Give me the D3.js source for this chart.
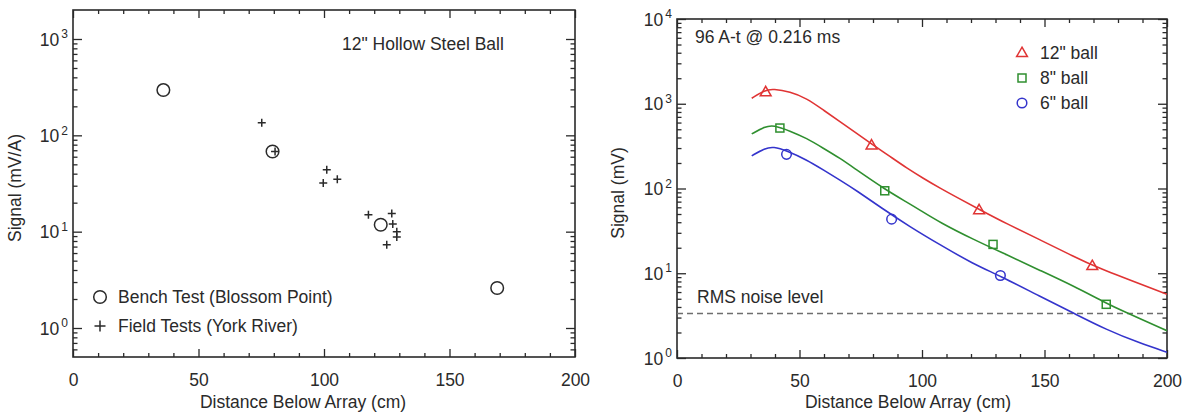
<!DOCTYPE html>
<html>
<head>
<meta charset="utf-8">
<script src="https://cdn.jsdelivr.net/npm/d3@7"></script>
<style>
  html, body { margin: 0; padding: 0; background: #fff; }
  svg { display: block; }
</style>
</head>
<body>
<svg id="chart" width="1184" height="413"></svg>
<script>
// ---- Left panel: 12" hollow steel ball, signal normalised by current ----
const benchDist   = [36, 79.5, 122.6, 169];
const benchSignal = [295, 68, 11.8, 2.6];
const fieldDist   = [75.2, 80.5, 101.1, 99.7, 105.3, 117.7, 127, 127.4, 129, 129, 125];
const fieldSignal = [135, 68, 44, 32, 35, 15, 15.4, 12, 10, 8.8, 7.3];
const leftLegend  = ["Bench Test (Blossom Point)", "Field Tests (York River)"];

// ---- Right panel: measured signal for three ball sizes, with model fits ----
const ballLabels = ['12" ball', '8" ball', '6" ball'];
const ballColors = ["#e03434", "#2f8f2f", "#3434cc"];

const meas12Dist = [36.2, 79.4, 123.3, 169.5];
const meas12Sig  = [1370, 323, 55.6, 12.2];
const meas8Dist  = [42, 84.8, 129, 175.2];
const meas8Sig   = [517, 94, 21.9, 4.3];
const meas6Dist  = [44.7, 87.6, 132];
const meas6Sig   = [253, 43.5, 9.4];

const fit12Dist = [30.5, 35.9, 39.3, 46.1, 52.9, 59.7, 66.5, 73.3, 79.5, 87, 93.8, 100.5, 107.3, 114.8, 123.7, 134.6, 148.2, 161.8, 169.7, 200];
const fit12Sig  = [1161, 1455, 1496, 1389, 1161, 845, 615, 449, 335, 238, 174, 132, 101, 77, 56, 38.3, 24.8, 15.85, 12.2, 5.65];
const fit8Dist  = [30.5, 35.9, 39.3, 46.1, 52.9, 59.7, 66.5, 73.3, 84.9, 93.8, 99.2, 107.3, 120.9, 134.6, 148.2, 161.8, 174.3, 182.2, 200];
const fit8Sig   = [441, 537, 562, 478, 392, 299, 228, 166, 97.7, 69, 55.6, 39.8, 25.1, 16.5, 10.8, 7.08, 4.57, 3.55, 2.1];
const fit6Dist  = [30.5, 35.9, 39.3, 44.8, 52.9, 59.7, 66.5, 73.3, 83.5, 95, 107.3, 120.9, 131.8, 148.2, 161.8, 175.2, 188.8, 200];
const fit6Sig   = [243, 299, 312, 280, 218, 166, 126, 94.6, 58.7, 35.5, 21.7, 12.9, 9.34, 5.32, 3.39, 2.16, 1.5, 1.17];

const noiseLevel = 3.35;

const xTicks = [0, 50, 100, 150, 200];
const xMinor = [10, 20, 30, 40, 60, 70, 80, 90, 110, 120, 130, 140, 160, 170, 180, 190];

const FONT = '"Liberation Sans", Arial, Helvetica, sans-serif';
const INK = "#2a2a2a";
const FS = 17.5;

const svg = d3.select("#chart");

function minorLog(lo, hi) {
  const out = [];
  for (let e = Math.floor(Math.log10(lo)); e <= Math.ceil(Math.log10(hi)); e++) {
    for (let m = 2; m <= 9; m++) {
      const v = +(m * Math.pow(10, e)).toPrecision(6);
      if (v > lo && v < hi) out.push(v);
    }
  }
  return out;
}

function styleAxis(g) {
  g.select(".domain").remove();
  g.selectAll(".tick line").attr("stroke", INK).attr("stroke-width", 1.3);
  g.selectAll("text").attr("font-family", FONT).attr("font-size", FS).attr("fill", INK);
}

// Draws the frame, inward ticks on all four sides, and tick labels.
function drawFrame(x, y, decades, xTitle, yTitle, xTitleX, yTitleX, yTitleY) {
  const [x0, x1] = x.range();
  const [y0, y1] = y.range(); // y0 bottom, y1 top
  const g = svg.append("g");
  const dom = y.domain();
  const minorY = minorLog(dom[0], dom[1]);

  // bottom
  g.append("g").attr("transform", `translate(0,${y0})`)
    .call(d3.axisBottom(x).tickValues(xTicks).tickSize(-8).tickPadding(17).tickFormat(d3.format("d")))
    .call(styleAxis);
  g.append("g").attr("transform", `translate(0,${y0})`)
    .call(d3.axisBottom(x).tickValues(xMinor).tickSize(-4).tickFormat(""))
    .call(styleAxis);
  // top
  g.append("g").attr("transform", `translate(0,${y1})`)
    .call(d3.axisTop(x).tickValues(xTicks).tickSize(-8).tickFormat(""))
    .call(styleAxis);
  g.append("g").attr("transform", `translate(0,${y1})`)
    .call(d3.axisTop(x).tickValues(xMinor).tickSize(-4).tickFormat(""))
    .call(styleAxis);
  // left
  const left = g.append("g").attr("transform", `translate(${x0},0)`)
    .call(d3.axisLeft(y).tickValues(decades).tickSize(-9).tickPadding(5).tickFormat(""))
    .call(styleAxis);
  g.append("g").attr("transform", `translate(${x0},0)`)
    .call(d3.axisLeft(y).tickValues(minorY).tickSize(-4.5).tickFormat(""))
    .call(styleAxis);
  // right
  g.append("g").attr("transform", `translate(${x1},0)`)
    .call(d3.axisRight(y).tickValues(decades).tickSize(-9).tickFormat(""))
    .call(styleAxis);
  g.append("g").attr("transform", `translate(${x1},0)`)
    .call(d3.axisRight(y).tickValues(minorY).tickSize(-4.5).tickFormat(""))
    .call(styleAxis);

  // power-of-ten labels
  left.selectAll(".tick").each(function (d) {
    const t = d3.select(this).select("text")
      .attr("x", -5).attr("dy", "0.35em").attr("text-anchor", "end");
    t.append("tspan").text("10");
    t.append("tspan").attr("font-size", 12).attr("dy", "-0.62em").attr("dx", 2)
      .text(Math.round(Math.log10(d)));
  });

  // frame
  g.append("rect")
    .attr("x", x0).attr("y", y1).attr("width", x1 - x0).attr("height", y0 - y1)
    .attr("fill", "none").attr("stroke", INK).attr("stroke-width", 1.6);

  // titles
  g.append("text").attr("x", xTitleX).attr("y", 408)
    .attr("text-anchor", "middle").attr("font-family", FONT).attr("font-size", FS).attr("fill", INK)
    .text(xTitle);
  g.append("text").attr("transform", `translate(${yTitleX},${yTitleY}) rotate(-90)`)
    .attr("text-anchor", "middle").attr("font-family", FONT).attr("font-size", FS).attr("fill", INK)
    .text(yTitle);
  return g;
}

function label(x, y, txt) {
  svg.append("text").attr("x", x).attr("y", y)
    .attr("font-family", FONT).attr("font-size", FS).attr("fill", INK).text(txt);
}

function crossPath(cx, cy, h) {
  return `M${cx - h},${cy}H${cx + h}M${cx},${cy - h}V${cy + h}`;
}

// ================= Left panel =================
const xL = d3.scaleLinear().domain([0, 200]).range([73, 575]);
const yL = d3.scaleLog().domain([0.5, 2000]).range([357, 10]);
drawFrame(xL, yL, [1, 10, 100, 1000], "Distance Below Array (cm)", "Signal (mV/A)", 303, 21, 188);

const gL = svg.append("g");
gL.selectAll("circle.bench")
  .data(d3.zip(benchDist, benchSignal))
  .join("circle")
  .attr("cx", d => xL(d[0])).attr("cy", d => yL(d[1])).attr("r", 6.3)
  .attr("fill", "none").attr("stroke", INK).attr("stroke-width", 1.5);
gL.selectAll("path.field")
  .data(d3.zip(fieldDist, fieldSignal))
  .join("path")
  .attr("d", d => crossPath(xL(d[0]), yL(d[1]), 4))
  .attr("fill", "none").attr("stroke", INK).attr("stroke-width", 1.5);

label(342, 50, '12" Hollow Steel Ball');

// legend
gL.append("circle").attr("cx", 100).attr("cy", 297).attr("r", 6.3)
  .attr("fill", "none").attr("stroke", INK).attr("stroke-width", 1.5);
label(118, 303, leftLegend[0]);
gL.append("path").attr("d", crossPath(100, 326, 5.5))
  .attr("fill", "none").attr("stroke", INK).attr("stroke-width", 1.5);
label(118, 332, leftLegend[1]);

// ================= Right panel =================
const xR = d3.scaleLinear().domain([0, 200]).range([677, 1167]);
const yR = d3.scaleLog().domain([1, 10000]).range([358, 19]);
drawFrame(xR, yR, [1, 10, 100, 1000, 10000], "Distance Below Array (cm)", "Signal (mV)", 908, 624, 193);

const gR = svg.append("g");
svg.append("defs").append("clipPath").attr("id", "clipR")
  .append("rect").attr("x", 677).attr("y", 19).attr("width", 490).attr("height", 339);

// noise floor
gR.append("line")
  .attr("x1", xR(0)).attr("x2", xR(200))
  .attr("y1", yR(noiseLevel)).attr("y2", yR(noiseLevel))
  .attr("stroke", "#6e6e6e").attr("stroke-width", 1.5).attr("stroke-dasharray", "6,4");
label(697, 303, "RMS noise level");

const line = d3.line().x(d => xR(d[0])).y(d => yR(d[1])).curve(d3.curveBasis);
const fits = [d3.zip(fit12Dist, fit12Sig), d3.zip(fit8Dist, fit8Sig), d3.zip(fit6Dist, fit6Sig)];
gR.append("g").attr("clip-path", "url(#clipR)")
  .selectAll("path").data(fits).join("path")
  .attr("d", line).attr("fill", "none")
  .attr("stroke", (d, i) => ballColors[i]).attr("stroke-width", 1.6);

// marker shapes
function marker(sel, kind, color) {
  if (kind === 0) {
    sel.append("path").attr("d", "M0,-5.8L5.4,3.6L-5.4,3.6Z");
  } else if (kind === 1) {
    sel.append("rect").attr("x", -4).attr("y", -4).attr("width", 8).attr("height", 8);
  } else {
    sel.append("circle").attr("r", 4.8);
  }
  sel.selectAll("*").attr("fill", "none").attr("stroke", color).attr("stroke-width", 1.5);
}

const meas = [d3.zip(meas12Dist, meas12Sig), d3.zip(meas8Dist, meas8Sig), d3.zip(meas6Dist, meas6Sig)];
meas.forEach((pts, i) => {
  gR.selectAll(null).data(pts).join("g")
    .attr("transform", d => `translate(${xR(d[0])},${yR(d[1])})`)
    .each(function () { marker(d3.select(this), i, ballColors[i]); });
});

label(695, 43, "96 A-t @ 0.216 ms");

// legend
ballLabels.forEach((txt, i) => {
  const cy = 53 + i * 25;
  const m = gR.append("g").attr("transform", `translate(1022,${cy})`);
  marker(m, i, ballColors[i]);
  label(1040, cy + 5.5, txt);
});
</script>
</body>
</html>
